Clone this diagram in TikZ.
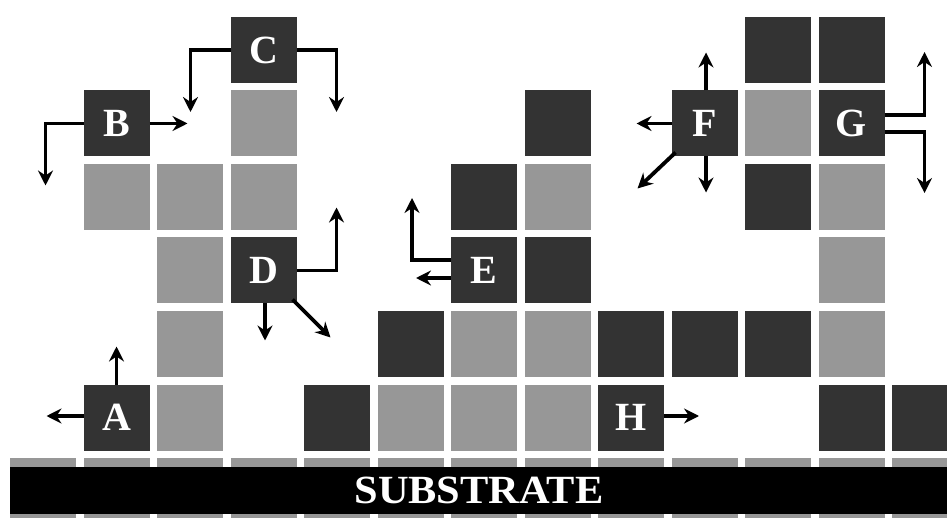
\documentclass[tikz,border=0pt]{standalone}
\usepackage{fontspec}
\setmainfont{Liberation Serif}
\usetikzlibrary{arrows.meta}
\definecolor{cellDark}{HTML}{333333}
\definecolor{cellLight}{HTML}{979797}
\tikzset{
  cell/.style={minimum size=66pt, inner sep=0pt, outer sep=0pt},
  dk/.style={cell, fill=cellDark, text=white, font=\fontsize{40}{40}\selectfont\bfseries},
  lt/.style={cell, fill=cellLight},
  move/.style={line width=3.8pt, -{Stealth[length=15pt,width=15pt,inset=5pt]}},
}
% grid: column c centre x = 43 + 73.5 c, row r centre y = 50 + 73.5 r
\newcommand{\dcell}[3]{\node[dk] (#3) at ({43+73.5*#1},{50+73.5*#2}) {};}
\newcommand{\lcell}[3]{\node[lt] (#3) at ({43+73.5*#1},{50+73.5*#2}) {};}
\begin{document}
\begin{tikzpicture}[x=1pt, y=-1pt]
  \useasboundingbox[fill=white] (0,0) rectangle (947,518);

  % substrate row of light cells
  \foreach \c in {0,...,12}{ \lcell{\c}{6}{s\c} }
  % black substrate bar
  \fill[black] (10,467) rectangle (947,514);
  \node[text=white, font=\fontsize{40}{40}\selectfont\bfseries, xscale=1.06, inner sep=0pt] (sub) at (479,490) {SUBSTRATE};

  % row 0
  \dcell{10}{0}{r0c10} \dcell{11}{0}{r0c11}
  \node[dk] (C) at ({43+73.5*3},50) {C};
  % row 1
  \node[dk] (B) at (116.5,123.5) {B};
  \lcell{3}{1}{r1c3} \dcell{7}{1}{r1c7}
  \node[dk] (F) at ({43+73.5*9},123.5) {F};
  \lcell{10}{1}{r1c10}
  \node[dk] (G) at ({43+73.5*11},123.5) {G};
  % row 2
  \lcell{1}{2}{r2c1} \lcell{2}{2}{r2c2} \lcell{3}{2}{r2c3}
  \dcell{6}{2}{r2c6} \lcell{7}{2}{r2c7}
  \dcell{10}{2}{r2c10} \lcell{11}{2}{r2c11}
  % row 3
  \lcell{2}{3}{r3c2}
  \node[dk] (D) at ({43+73.5*3},270.5) {D};
  \node[dk] (E) at ({43+73.5*6},270.5) {E};
  \dcell{7}{3}{r3c7} \lcell{11}{3}{r3c11}
  % row 4
  \lcell{2}{4}{r4c2} \dcell{5}{4}{r4c5} \lcell{6}{4}{r4c6} \lcell{7}{4}{r4c7}
  \dcell{8}{4}{r4c8} \dcell{9}{4}{r4c9} \dcell{10}{4}{r4c10} \lcell{11}{4}{r4c11}
  % row 5
  \node[dk] (A) at (116.5,417.5) {A};
  \lcell{2}{5}{r5c2} \dcell{4}{5}{r5c4} \lcell{5}{5}{r5c5} \lcell{6}{5}{r5c6} \lcell{7}{5}{r5c7}
  \node[dk] (H) at ({43+73.5*8},417.5) {H};
  \dcell{11}{5}{r5c11} \dcell{12}{5}{r5c12}

  % hops (xshift/yshift are page units, positive yshift moves up;
  % shift={(..)} follows the picture's downward y axis)
  \draw[move] (A.north) -- ++(0,-38);
  \draw[move] ([yshift=1.5pt]A.west) -- ++(-37,0);

  \draw[move] (B.west) -- ++(-38,0) -- ++(0,62);
  \draw[move] (B.east) -- ++(38,0);

  \draw[move] (C.west) -- ++(-40,0) -- ++(0,62);
  \draw[move] (C.east) -- ++(40,0) -- ++(0,62);

  \draw[move] (D.east) -- ++(40,0) -- ++(0,-63);
  \draw[move] ([xshift=1.5pt]D.south) -- ++(0,37);
  \draw[move] ([shift={(-4,-4)}]D.south east) -- ++(38,38);

  \draw[move] ([yshift=10.5pt]E.west) -- ++(-39,0) -- ++(0,-62);
  \draw[move] ([yshift=-7.5pt]E.west) -- ++(-35,0);

  \draw[move] ([xshift=1.5pt]F.north) -- ++(0,-38);
  \draw[move] (F.west) -- ++(-35,0);
  \draw[move] ([xshift=1.5pt]F.south) -- ++(0,36);
  \draw[move] ([shift={(4,-4)}]F.south west) -- ++(-38,36);

  \draw[move] ([yshift=8.5pt]G.east) -- ++(40,0) -- ++(0,-63);
  \draw[move] ([yshift=-8.5pt]G.east) -- ++(40,0) -- ++(0,61);

  \draw[move] ([yshift=1.5pt]H.east) -- ++(35,0);
\end{tikzpicture}
\end{document}
